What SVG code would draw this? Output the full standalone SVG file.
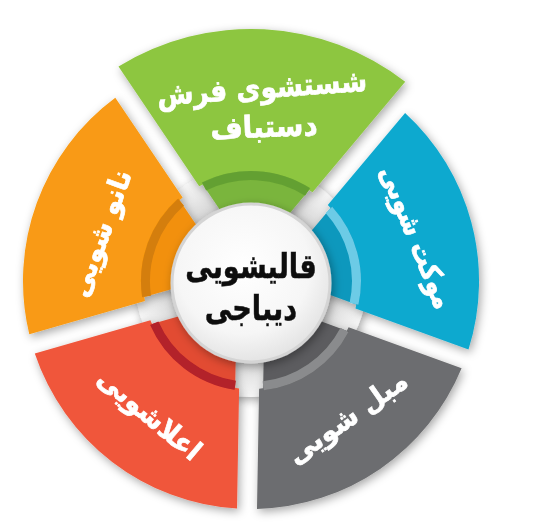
<svg xmlns="http://www.w3.org/2000/svg" width="555" height="526" viewBox="0 0 555 526">
<defs>
<filter id="sh" x="-30%" y="-30%" width="160%" height="160%">
<feDropShadow dx="2" dy="3" stdDeviation="5" flood-color="#000" flood-opacity="0.35"/>
</filter>
<radialGradient id="hubg" cx="0.5" cy="0.5" r="0.5">
<stop offset="0.6" stop-color="#cdcdcd"/>
<stop offset="0.85" stop-color="#e8e8e8"/>
<stop offset="1" stop-color="#f6f6f6"/>
</radialGradient>
<radialGradient id="cg" cx="0.45" cy="0.4" r="0.6">
<stop offset="0" stop-color="#ffffff"/>
<stop offset="0.7" stop-color="#f6f6f6"/>
<stop offset="1" stop-color="#e4e4e4"/>
</radialGradient>
<style>
.lbl{font-family:'DejaVu Sans',sans-serif;font-weight:bold;fill:#fff;stroke:#fff;stroke-width:0.7;text-anchor:middle;}
.ctr{font-family:'DejaVu Sans',sans-serif;font-weight:bold;fill:#111;stroke:#111;stroke-width:0.5;text-anchor:middle;font-size:34px;}
.band{fill:none;stroke-width:9;}
</style>
</defs>
<rect width="555" height="526" fill="#fff"/>
<g id="hub-base">
<circle cx="251" cy="281" r="116" fill="url(#hubg)" filter="url(#sh)"/>
</g>
<g id="seg-green" filter="url(#sh)">
<path d="M118.5,66.6 A252,252 0 0 1 405.2,81.7 L312.5,192.2 A108,108 0 0 0 199.2,186.3 Z" fill="#8dc63f"/>
<path d="M201.6,182.7 A110,110 0 0 1 310.4,188.4 L285.7,217.9 A72,72 0 0 0 223.1,214.6 Z" fill="#7ab53c"/>
<path class="band" d="M204.1,186.5 A105.5,105.5 0 0 1 307.5,191.9" stroke="#64a033"/>
<text class="lbl" font-size="30" transform="translate(262,88) rotate(-4) scale(0.88,1)" y="10">شستشوی فرش</text>
<text class="lbl" font-size="30" transform="translate(264,127) rotate(-2) scale(0.93,1)" y="10">دستباف</text>
</g>
<g id="seg-blue" filter="url(#sh)">
<path d="M405.1,112.9 A228,228 0 0 1 468.5,349.5 L355.5,308.4 A108,108 0 0 0 327.8,205.1 Z" fill="#10a9cf"/>
<path d="M331.9,206.4 A110,110 0 0 1 358.3,305.2 L322.2,292.0 A72,72 0 0 0 307.1,235.9 Z" fill="#0d98bd"/>
<path class="band" d="M328.9,209.9 A105.5,105.5 0 0 1 354.0,303.7" stroke="#6ccbe6"/>
<text class="lbl" font-size="28" transform="translate(417,237) rotate(68) scale(0.87,1)" y="10">موکت شویی</text>
</g>
<g id="seg-grey" filter="url(#sh)">
<path d="M461.6,368.3 A228,228 0 0 1 257.0,508.9 L259.1,388.7 A108,108 0 0 0 348.6,327.2 Z" fill="#6c6d6f"/>
<path d="M348.7,331.5 A110,110 0 0 1 263.1,390.3 L263.8,351.9 A72,72 0 0 0 312.6,318.3 Z" fill="#5b5c5e"/>
<path class="band" d="M344.5,329.9 A105.5,105.5 0 0 1 263.1,385.8" stroke="#8a8b8d"/>
<text class="lbl" font-size="28" transform="translate(347,417) rotate(-35) scale(0.95,1)" y="10">مبل شویی</text>
</g>
<g id="seg-red" filter="url(#sh)">
<path d="M237.0,508.6 A228,228 0 0 1 34.8,353.4 L150.4,320.3 A108,108 0 0 0 239.1,388.4 Z" fill="#f0563b"/>
<path d="M235.1,389.9 A110,110 0 0 1 150.0,324.5 L187.0,313.9 A72,72 0 0 0 235.8,351.4 Z" fill="#e24b31"/>
<path class="band" d="M235.2,385.3 A105.5,105.5 0 0 1 154.3,323.2" stroke="#b3202a"/>
<text class="lbl" font-size="28" transform="translate(150,414) rotate(40) scale(0.94,1)" y="10">اعلاشویی</text>
</g>
<g id="seg-orange" filter="url(#sh)">
<path d="M29.3,334.2 A228,228 0 0 1 115.3,97.8 L182.6,197.4 A108,108 0 0 0 144.9,301.0 Z" fill="#f99a12"/>
<path d="M142.3,297.6 A110,110 0 0 1 178.4,198.4 L199.9,230.3 A72,72 0 0 0 179.3,287.0 Z" fill="#f29010"/>
<path class="band" d="M146.6,296.4 A105.5,105.5 0 0 1 181.0,202.1" stroke="#d47e0a"/>
<text class="lbl" font-size="28" transform="translate(100,233) rotate(-70) scale(0.93,1)" y="10">نانو شویی</text>
</g>
<g id="center" filter="url(#sh)">
<circle cx="251" cy="283" r="79" fill="url(#cg)" stroke="#d4d4d4" stroke-width="3"/>
<text class="ctr" transform="translate(251,278) scale(0.8,1)">قالیشویی</text>
<text class="ctr" transform="translate(251,320) scale(0.8,1)">دیباجی</text>
</g>
</svg>
